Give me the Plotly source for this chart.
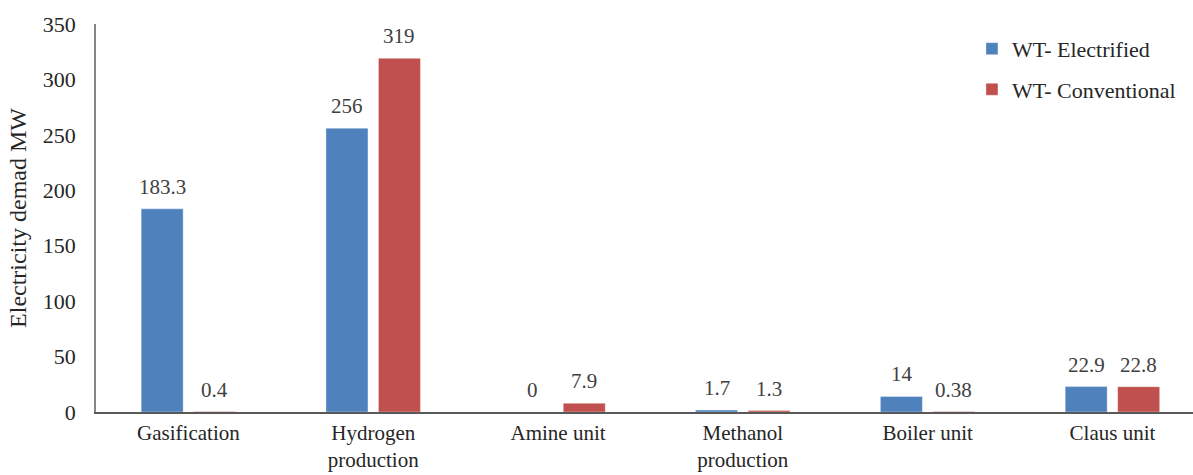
import plotly.graph_objects as go

# Electricity demand per process unit (MW)
categories = ["Gasification", "Hydrogen<br>production", "Amine unit",
              "Methanol<br>production", "Boiler unit", "Claus unit"]
electrified = [183.3, 256, 0, 1.7, 14, 22.9]
conventional = [0.4, 319, 7.9, 1.3, 0.38, 22.8]
electrified_labels = ["183.3", "256", "0", "1.7", "14", "22.9"]
conventional_labels = ["0.4", "319", "7.9", "1.3", "0.38", "22.8"]
y_ticks = [0, 50, 100, 150, 200, 250, 300, 350]

FONT = "'Liberation Serif', 'DejaVu Serif', serif"
BLUE = "#4F81BD"
RED = "#C0504D"

fig = go.Figure()
fig.add_trace(go.Bar(
    x=categories, y=electrified, name="WT- Electrified",
    marker=dict(color=BLUE, line=dict(color="rgba(255,255,255,0.35)", width=1)),
    legendgroup="e",
))
fig.add_trace(go.Bar(
    x=categories, y=conventional, name="WT- Conventional",
    marker=dict(color=RED, line=dict(color="rgba(255,255,255,0.35)", width=1)),
    legendgroup="c",
))

# value labels above each bar
for i, cat in enumerate(categories):
    for vals, labels, shift in ((electrified, electrified_labels, -26),
                                (conventional, conventional_labels, 26)):
        fig.add_annotation(
            x=cat, y=vals[i], text=labels[i], showarrow=False,
            xshift=shift, yshift=8, yanchor="bottom",
            font=dict(family=FONT, size=21, color="#404040"),
        )

fig.update_layout(
    width=1193, height=475,
    margin=dict(l=96, r=0, t=24, b=63),
    paper_bgcolor="white", plot_bgcolor="white",
    barmode="group", bargap=0.432, bargroupgap=0.2,
    font=dict(family=FONT, size=22, color="#262626"),
    showlegend=True,
    legend=dict(
        x=0.7985, y=0.99, xanchor="left", yanchor="top",
        font=dict(family=FONT, size=22, color="#262626"),
        tracegroupgap=9, bgcolor="rgba(0,0,0,0)",
    ),
    xaxis=dict(
        range=[-0.5, 5.436], showgrid=False, zeroline=False,
        showline=True, linecolor="#595959", linewidth=1.5,
        ticks="", ticklabelstandoff=1, automargin=False,
        tickfont=dict(family=FONT, size=21, color="#262626"),
    ),
    yaxis=dict(
        range=[0, 350], tickvals=y_ticks, showgrid=False, zeroline=False,
        showline=True, linecolor="#868686", linewidth=1.5,
        ticks="", ticklabelstandoff=14, automargin=False,
        tickfont=dict(family=FONT, size=22, color="#262626"),
        title=dict(text="Electricity demad MW", standoff=9,
                   font=dict(family=FONT, size=24, color="#262626")),
    ),
)

fig.write_html("out.html")
